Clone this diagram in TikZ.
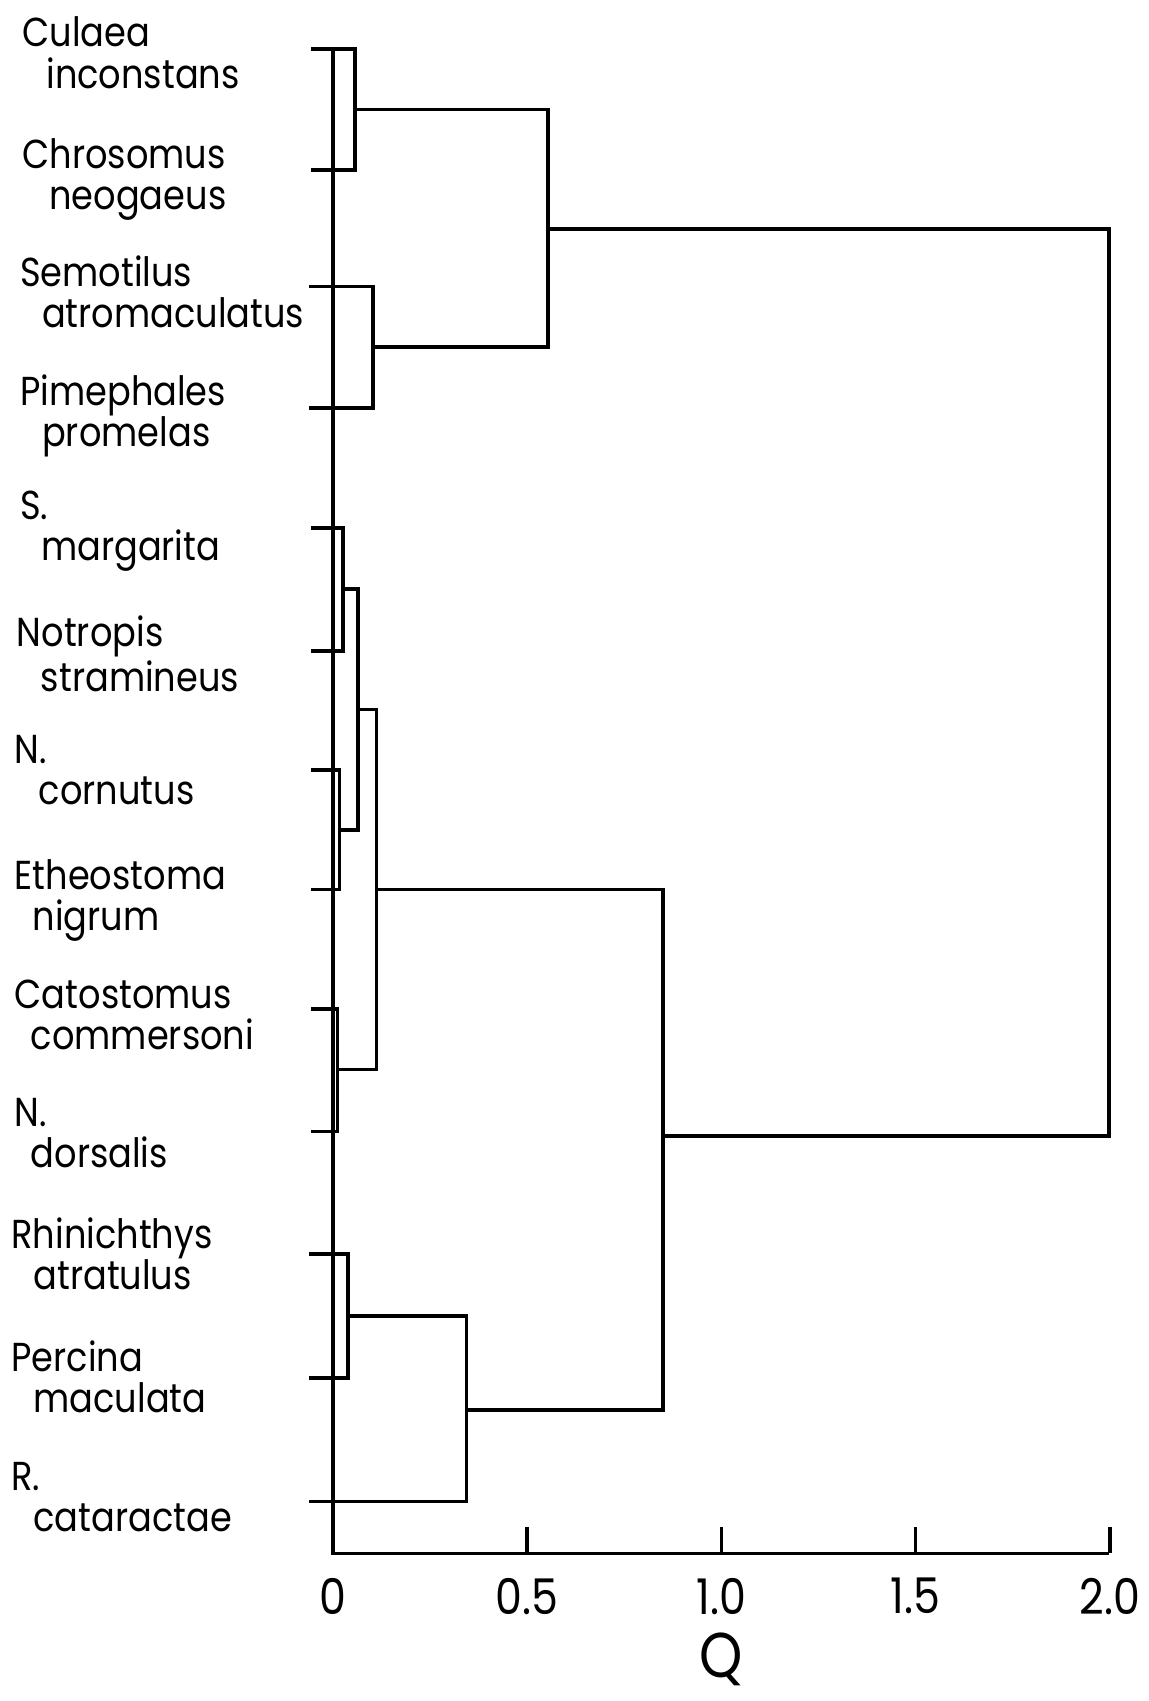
\documentclass[tikz,border=0pt]{standalone}
\usepackage{fontspec}
\setmainfont{Poppins}[FakeStretch=0.87]
\usetikzlibrary{positioning, calc}

\tikzset{
  tree/.style={line width=1.05pt},
  leafname/.style={anchor=north west, align=left, inner sep=0pt,
    font=\fontsize{11.5}{11.7}\selectfont},
  ticklabel/.style={anchor=north, inner sep=0pt, font=\fontsize{14}{14}\selectfont},
}
\newcommand{\fish}[3][2.2mm]{#2\\\hspace*{#1}#3}

\begin{document}
\begin{tikzpicture}[x=0.01085cm, y=-0.01085cm]
  \useasboundingbox (0,0) rectangle (1059,1568);

  % species names
  \node[leafname] (culaea)    at (20,15)   {\fish[2.4mm]{Culaea}{inconstans}};
  \node[leafname] (chrosomus) at (20,127)  {\fish[2.7mm]{Chrosomus}{neogaeus}};
  \node[leafname] (semotilus) at (18,235)  {\fish{Semotilus}{atromaculatus}};
  \node[leafname] (pimeph)    at (18,345)  {\fish{Pimephales}{promelas}};
  \node[leafname] (smarg)     at (18,452)  {\fish[2.1mm]{S.}{margarita}};
  \node[leafname] (notropis)  at (15,567)  {\fish[2.4mm]{Notropis}{stramineus}};
  \node[leafname] (ncorn)     at (13,677)  {\fish[2.4mm]{N.}{cornutus}};
  \node[leafname] (etheo)     at (13,792)  {\fish[1.8mm]{Etheostoma}{nigrum}};
  \node[leafname] (catos)     at (13,903)  {\fish[1.6mm]{Catostomus}{commersoni}};
  \node[leafname] (ndors)     at (13,1012) {\fish[1.6mm]{N.}{dorsalis}};
  \node[leafname] (rhin)      at (10,1122) {\fish{Rhinichthys}{atratulus}};
  \node[leafname] (percina)   at (10,1235) {\fish{Percina}{maculata}};
  \node[leafname] (rcat)      at (10,1347) {\fish{R.}{cataractae}};

  % leaf ends
  \coordinate (l1)  at (287,45);
  \coordinate (l2)  at (287,157);
  \coordinate (l3)  at (285,264);
  \coordinate (l4)  at (285,376);
  \coordinate (l5)  at (287,487);
  \coordinate (l6)  at (287,600);
  \coordinate (l7)  at (287,710);
  \coordinate (l8)  at (287,820);
  \coordinate (l9)  at (287,930);
  \coordinate (l10) at (287,1043);
  \coordinate (l11) at (285,1156);
  \coordinate (l12) at (285,1270);
  \coordinate (l13) at (285,1384);

  % merge points
  \coordinate (m1)   at (327,101);
  \coordinate (m2)   at (344,320);
  \coordinate (m3)   at (505,211);
  \coordinate (m4)   at (316,543);
  \coordinate (m5)   at (313,765);
  \coordinate (m6)   at (330,654);
  \coordinate (m7)   at (311,986);
  \coordinate (m8)   at (347,820);
  \coordinate (m9)   at (321,1213);
  \coordinate (m10)  at (430,1300);
  \coordinate (m11)  at (611,1047);
  \coordinate (root) at (1022,629);

  % axis
  \coordinate (top)    at (307,45);
  \coordinate (origin) at (307,1432);
  \coordinate (qend)   at (1022,1432);
  \draw[tree] (top) -- (origin) -- (qend);
  \foreach \q in {0.5,1.0,1.5,2.0}
    \draw[tree] ($(origin)+(358*\q,0)$) -- ++(0,-24);
  \foreach \q/\n in {0/0,0.5/1,1.0/2,1.5/3,2.0/4}
    \node[ticklabel] (tick\n) at ($(origin)+(358*\q,22)$) {\q};
  \node[font=\fontsize{18}{18}\selectfont, inner sep=0pt] (qlabel) at (665,1530) {Q};

  % tree
  \draw[tree] (l1) -| (m1) |- (l2);
  \draw[tree] (l3) -| (m2) |- (l4);
  \draw[tree] (m1) -| (m3) |- (m2);
  \draw[tree] (l5) -| (m4) |- (l6);
  \draw[tree] (l7) -| (m5) |- (l8);
  \draw[tree] (m4) -| (m6) |- (m5);
  \draw[tree] (l9) -| (m7) |- (l10);
  \draw[tree] (m6) -| (m8) |- (m7);
  \draw[tree] (l11) -| (m9) |- (l12);
  \draw[tree] (m9) -| (m10) |- (l13);
  \draw[tree] (m8) -| (m11) |- (m10);
  \draw[tree] (m3) -| (root) |- (m11);
\end{tikzpicture}
\end{document}
